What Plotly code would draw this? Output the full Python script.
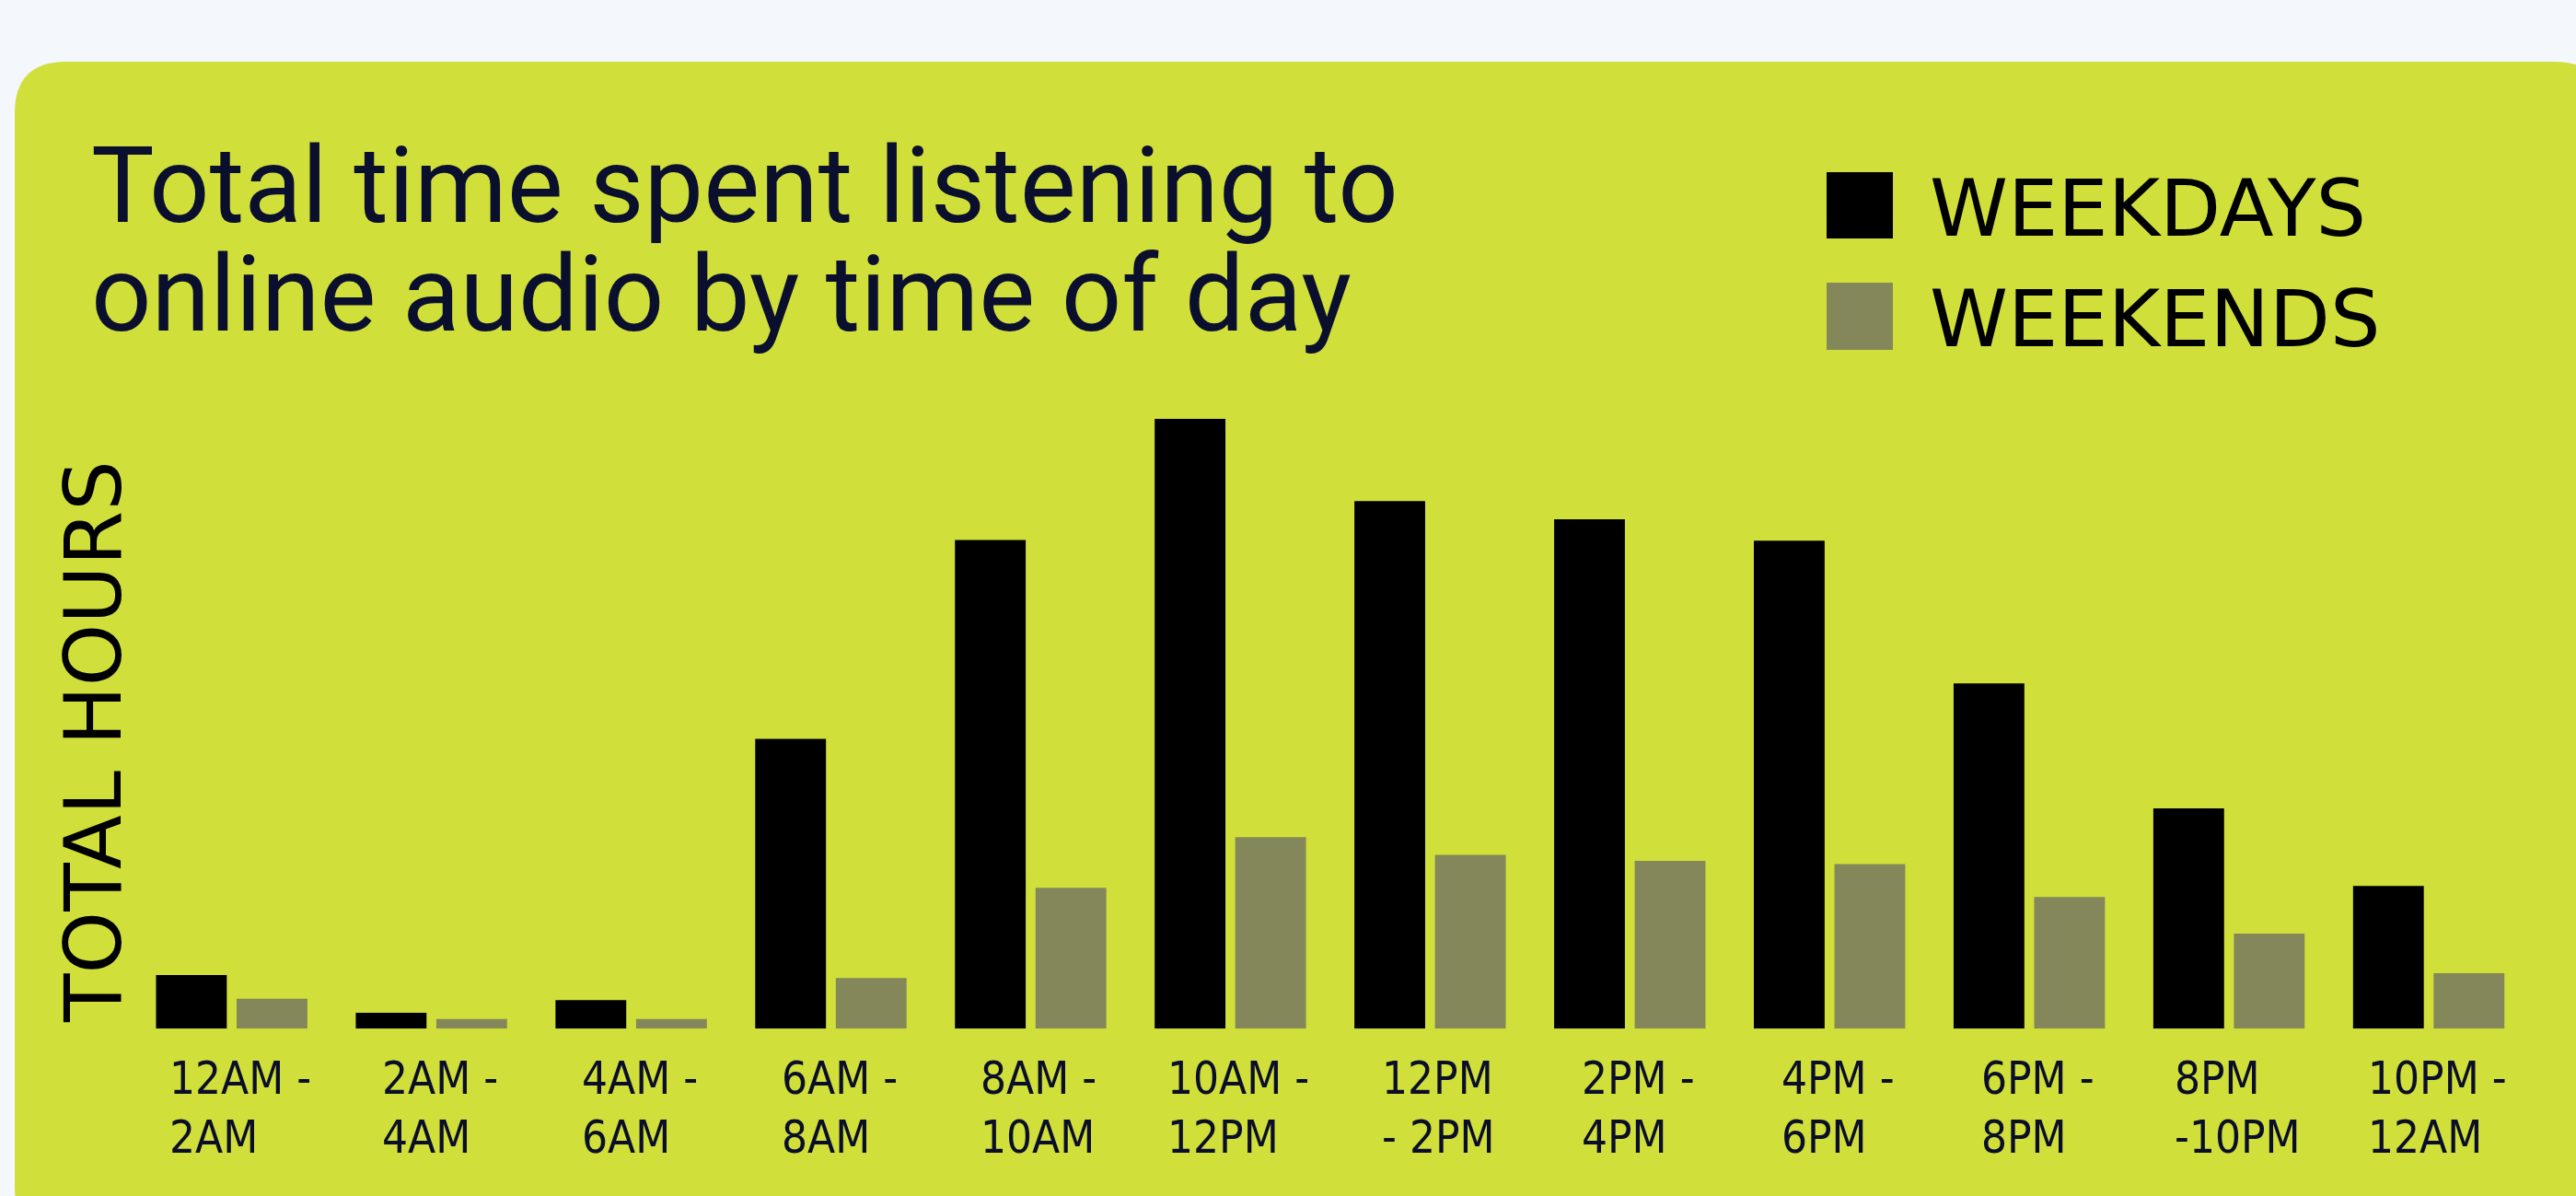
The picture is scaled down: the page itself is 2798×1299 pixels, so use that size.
import plotly.graph_objects as go

# ---------------- data ----------------
categories = ["12AM-2AM", "2AM-4AM", "4AM-6AM", "6AM-8AM", "8AM-10AM", "10AM-12PM",
              "12PM-2PM", "2PM-4PM", "4PM-6PM", "6PM-8PM", "8PM-10PM", "10PM-12AM"]
tick_labels = ["12AM -<br>2AM", "2AM -<br>4AM", "4AM -<br>6AM", "6AM -<br>8AM",
               "8AM -<br>10AM", "10AM -<br>12PM", "12PM<br>- 2PM", "2PM -<br>4PM",
               "4PM -<br>6PM", "6PM -<br>8PM", "8PM<br>-10PM", "10PM -<br>12AM"]
weekdays = [8.8, 2.6, 4.7, 47.5, 80.1, 100.0, 86.5, 83.5, 80.0, 56.6, 36.1, 23.4]
weekends = [4.9, 1.6, 1.6, 8.3, 23.1, 31.4, 28.5, 27.5, 27.0, 21.6, 15.6, 9.1]
series_names = ["WEEKDAYS", "WEEKENDS"]
title_lines = ["Total time spent listening to", "online audio by time of day"]
y_title = "TOTAL HOURS"

# ---------------- style ----------------
W, H = 2798, 1299
OUTER_BG = "#F4F7FB"
PANEL = "#D0DF3A"
C_WEEKDAY = "#000000"
C_WEEKEND = "#848759"
TITLE_COLOR = "#0B0F2E"
LABEL_COLOR = "#0A0E2A"
CONDENSED = "DejaVu Sans Condensed, Liberation Sans Narrow, Roboto, sans-serif"


def px_x(px):
    return px / W


def px_y(py):
    return 1 - py / H


fig = go.Figure()
fig.add_trace(go.Bar(x=categories, y=weekdays, name=series_names[0],
                     marker=dict(color=C_WEEKDAY, line=dict(width=0))))
fig.add_trace(go.Bar(x=categories, y=weekends, name=series_names[1],
                     marker=dict(color=C_WEEKEND, line=dict(width=0))))

# rounded background panel (pixel path converted to paper coords)
L_, T_, R_, B_, r = 16, 67, 2830, 1345, 56


def P(x, y):
    return f"{px_x(x):.5f},{px_y(y):.5f}"


panel_path = (f"M {P(L_, T_ + r)} Q {P(L_, T_)} {P(L_ + r, T_)} "
              f"L {P(R_ - r, T_)} Q {P(R_, T_)} {P(R_, T_ + r)} "
              f"L {P(R_, B_ - r)} Q {P(R_, B_)} {P(R_ - r, B_)} "
              f"L {P(L_ + r, B_)} Q {P(L_, B_)} {P(L_, B_ - r)} Z")

shapes = [
    dict(type="path", path=panel_path, xref="paper", yref="paper",
         fillcolor=PANEL, line=dict(width=0), layer="below"),
    dict(type="rect", xref="paper", yref="paper",
         x0=px_x(1984), x1=px_x(2056), y0=px_y(259), y1=px_y(187),
         fillcolor=C_WEEKDAY, line=dict(width=0)),
    dict(type="rect", xref="paper", yref="paper",
         x0=px_x(1984), x1=px_x(2056), y0=px_y(380), y1=px_y(307),
         fillcolor=C_WEEKEND, line=dict(width=0)),
]

annotations = []
# title lines
for line, top in zip(title_lines, [132, 250]):
    annotations.append(dict(text=line, xref="paper", yref="paper",
                            x=px_x(97), y=px_y(top), xanchor="left", yanchor="top",
                            showarrow=False,
                            font=dict(family="Roboto, sans-serif", size=115, color=TITLE_COLOR)))
# legend labels
for name, top in zip(series_names, [174, 294]):
    annotations.append(dict(text=name, xref="paper", yref="paper",
                            x=px_x(2094), y=px_y(top), xanchor="left", yanchor="top",
                            showarrow=False,
                            font=dict(family="DejaVu Sans, sans-serif", size=86, color="#000000")))
# y-axis title
annotations.append(dict(text=y_title, xref="paper", yref="paper",
                        x=px_x(101), y=px_y(806), xanchor="center", yanchor="middle",
                        textangle=-90, showarrow=False,
                        font=dict(family="DejaVu Sans, sans-serif", size=86, color="#000000")))
# category labels (left-aligned two-line blocks centred on each category)
for cat, lab in zip(categories, tick_labels):
    annotations.append(dict(text=lab, xref="x", yref="paper", x=cat, xshift=9,
                            y=px_y(1141), xanchor="center", yanchor="top", align="left",
                            showarrow=False,
                            font=dict(family=CONDENSED, size=49, color=LABEL_COLOR)))

fig.update_layout(
    width=W, height=H, autosize=False,
    margin=dict(l=0, r=0, t=0, b=0),
    paper_bgcolor=OUTER_BG, plot_bgcolor="rgba(0,0,0,0)",
    barmode="group", bargap=0.193, bargroupgap=0.122,
    showlegend=False,
    shapes=shapes, annotations=annotations,
    xaxis=dict(domain=[px_x(143.2), px_x(2746.5)], range=[-0.5, 11.5], type="category",
               showgrid=False, zeroline=False, showline=False, showticklabels=False, ticks=""),
    yaxis=dict(domain=[px_y(1117.3), px_y(454.7)], range=[0, 100],
               showgrid=False, zeroline=False, showline=False, showticklabels=False, ticks=""),
)

fig.write_html("out.html", config={"displayModeBar": False},
               post_script="document.body.style.margin='0';document.body.style.overflow='hidden';")
